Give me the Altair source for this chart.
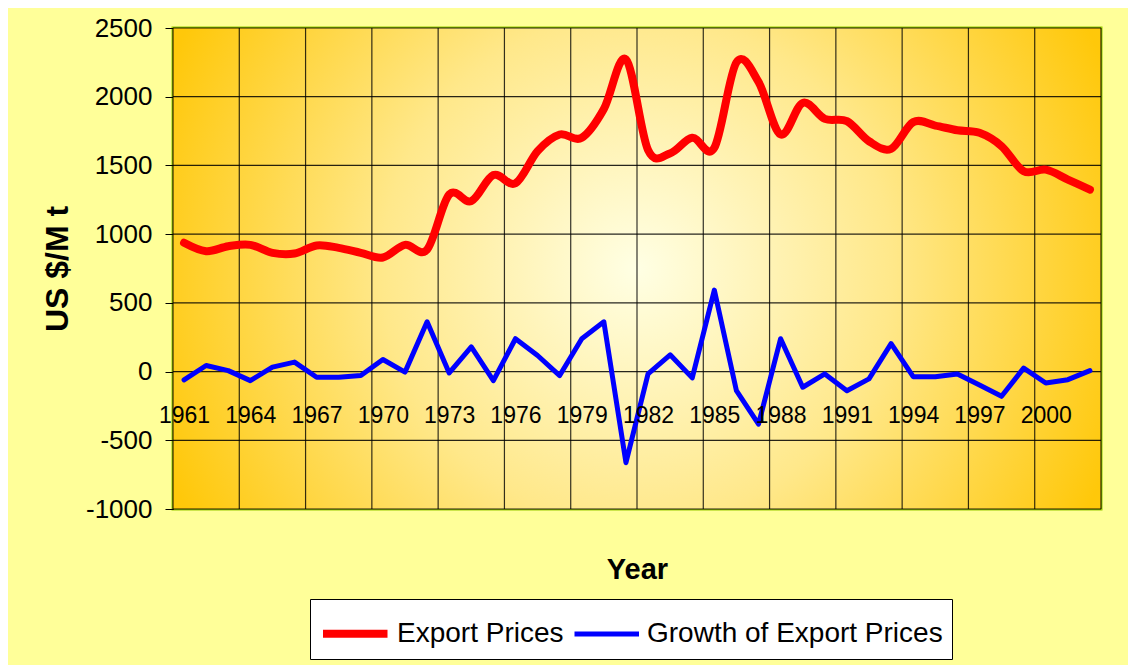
import altair as alt
import pandas as pd

# ---- data ----
years = list(range(1961, 2003))
export_prices = [937, 876, 912, 922, 864, 859, 918, 900, 864, 830,
                 922, 888, 1288, 1240, 1430, 1370, 1604, 1725, 1701, 1910,
                 2272, 1612, 1588, 1701, 1628, 2250, 2108, 1725, 1955, 1839,
                 1822, 1676, 1621, 1815, 1790, 1756, 1737, 1640, 1458, 1469,
                 1397, 1324]
growth = [-61, 44, 7, -66, 32, 69, -41, -41, -29, 88,
          -4, 362, -10, 179, -66, 239, 117, -29, 239, 362,
          -663, -17, 122, -46, 593, -139, -383, 239, -114, -17,
          -139, -53, 203, -37, -37, -17, -97, -180, 25, -83,
          -59, 7]
series_names = ["Export Prices", "Growth of Export Prices"]
series_colors = ["#FF0000", "#0000FF"]
y_ticks = [-1000, -500, 0, 500, 1000, 1500, 2000, 2500]

df = pd.DataFrame({
    "year": years + years,
    "value": export_prices + growth,
    "series": [series_names[0]] * len(years) + [series_names[1]] * len(years),
})

# category boundaries every third year (vertical grid)
boundaries = [y - 0.5 for y in years[::3]] + [years[-1] + 0.5]
x_lo, x_hi = years[0] - 0.5, years[-1] + 0.5

FONT = "Liberation Sans, Arial, sans-serif"

xscale = alt.Scale(domain=[x_lo, x_hi], nice=False, zero=False)
yscale = alt.Scale(domain=[y_ticks[0], y_ticks[-1]], nice=False)

x_axis = alt.Axis(
    values=boundaries, grid=False, zindex=1,
    domain=False, ticks=False, tickSize=0,
    labelExpr=f"datum.value < {years[-1]} ? format(datum.value + 0.5, 'd') : ''",
    labelOffset=11, labelPadding=-87, labelBaseline="alphabetic",
    labelFont=FONT, labelFontSize=23, labelColor="#000000",
    labelOverlap=False, labelFlush=False, labelBound=False,
    title="Year", titleFont=FONT, titleFontSize=29, titleFontWeight="bold",
    titleColor="#000000", titleY=69, titleBaseline="alphabetic",
)
y_axis = alt.Axis(
    values=y_ticks, grid=False, labelExpr="datum.value + ''",
    domain=True, domainColor="#000000", domainWidth=1,
    ticks=True, tickSize=8, tickColor="#000000", tickWidth=1,
    labelPadding=13, labelFont=FONT, labelFontSize=26, labelColor="#000000",
    title="US $/M t", titleFont=FONT, titleFontSize=32, titleFontWeight="bold",
    titleColor="#000000", titleX=-116, titleBaseline="middle",
)

# legend symbol: a horizontal stroke starting at the symbol's left edge
sym_size = 1849
legend = alt.Legend(
    title=None, orient="none", legendX=137, legendY=571, direction="horizontal",
    symbolType="M-1,0H2", symbolSize=sym_size, labelFont=FONT, labelFontSize=28,
    labelColor="#000000", labelLimit=500, fillColor="#FFFFFF", strokeColor="#000000",
    padding=9, columnPadding=0, labelOffset=27,
)

X = lambda f="year:Q": alt.X(f, scale=xscale, axis=x_axis)
Y = lambda f="value:Q": alt.Y(f, scale=yscale, axis=y_axis)

gradient = {
    "gradient": "radial",
    "x1": 0.5, "y1": 0.5, "x2": 0.5, "y2": 0.5, "r1": 0, "r2": 0.55,
    "stops": [
        {"offset": 0, "color": "#FFFFE4"},
        {"offset": 0.5, "color": "#FFE88A"},
        {"offset": 1, "color": "#FFC80A"},
    ],
}

bg_df = pd.DataFrame({"year": [x_lo], "year2": [x_hi],
                      "value": [y_ticks[0]], "value2": [y_ticks[-1]]})
background = alt.Chart(bg_df).mark_rect(fill=gradient).encode(
    x=X(), x2="year2", y=Y(), y2="value2")

vgrid = alt.Chart(pd.DataFrame({"year": boundaries})).mark_rule(
    color="#000000", strokeWidth=1.2, opacity=0.8).encode(x=X())
hgrid = alt.Chart(pd.DataFrame({"value": y_ticks})).mark_rule(
    color="#000000", strokeWidth=1.2, opacity=0.85).encode(y=Y())

color = alt.Color("series:N", scale=alt.Scale(domain=series_names, range=series_colors), legend=legend)
width_enc = alt.StrokeWidth("series:N", scale=alt.Scale(domain=series_names, range=[8, 5]), legend=legend)

base = alt.Chart(df).encode(x=X(), y=Y(), color=color, strokeWidth=width_enc)
red = base.transform_filter(alt.datum.series == series_names[0]).mark_line(
    interpolate="cardinal", strokeCap="round", strokeJoin="round")
blue = base.transform_filter(alt.datum.series == series_names[1]).mark_line(
    strokeCap="round", strokeJoin="round")

chart = alt.layer(background, vgrid, hgrid, red, blue).properties(
    width=928, height=481,
    autosize=alt.AutoSizeParams(type="none"),
    padding={"left": 165, "top": 20, "right": 27, "bottom": 156},
    background="#FFFF99",
).configure_view(
    stroke="#99CC00", strokeWidth=3,
)

chart.save("out.html", embed_options={"renderer": "svg", "actions": False})
